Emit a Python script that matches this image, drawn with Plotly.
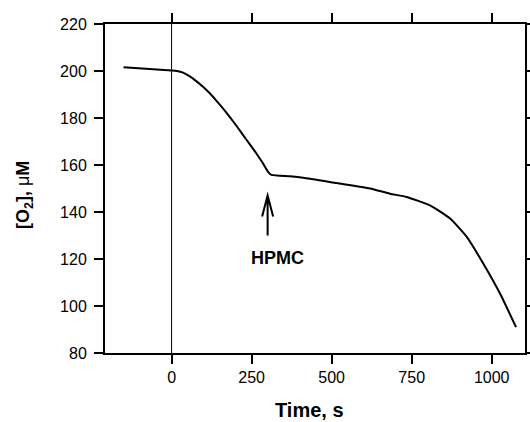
import plotly.graph_objects as go

# Data
time_s = [-150, 0, 16, 36, 57, 78, 99, 120, 141, 161, 182, 203, 224, 245, 266, 286,
          302, 312, 370, 411, 516, 620, 682, 734, 807, 870, 922, 974, 1026, 1076]
o2_uM = [201.6, 200.2, 200.0, 199.3, 197.7, 195.6, 193.2, 190.4, 187.2, 184.0, 180.4,
         176.6, 172.6, 168.7, 164.7, 160.6, 157.0, 155.8, 155.2, 154.6, 152.3, 150.0,
         147.8, 146.4, 142.8, 137.2, 129.4, 118.0, 105.3, 91.0]

x_ticks = [0, 250, 500, 750, 1000]
y_ticks = [80, 100, 120, 140, 160, 180, 200, 220]

arrow_x, arrow_tip_y = 300, 147
label_x, label_y, label_text = 332, 120.5, "HPMC"

font_family = "Liberation Sans, Arial, sans-serif"

fig = go.Figure()
fig.add_trace(go.Scatter(x=time_s, y=o2_uM, mode="lines",
                         line=dict(color="black", width=2, shape="spline", smoothing=0.5),
                         showlegend=False, hoverinfo="skip"))

# vertical line at t = 0
fig.add_shape(type="line", xref="x", yref="paper", x0=0, x1=0, y0=0, y1=1,
              line=dict(color="black", width=1))

# arrow (shaft + open V head), in pixel units anchored at the tip
fig.add_shape(type="path", xref="x", yref="y", xsizemode="pixel", ysizemode="pixel",
              xanchor=arrow_x, yanchor=arrow_tip_y,
              path="M 0,-40 L 0,0 M -5.5,-21 L 0,0 L 5.5,-21",
              line=dict(color="black", width=2))

fig.add_annotation(x=label_x, y=label_y, xref="x", yref="y", text=f"<b>{label_text}</b>",
                   showarrow=False, font=dict(family=font_family, size=18, color="black"),
                   xanchor="center", yanchor="middle")

# y-axis title
fig.add_annotation(x=-0.193, y=0.48, xref="paper", yref="paper",
                   text="<b>[O<sub>2</sub>], </b>μ<b>M</b>", textangle=-90,
                   showarrow=False, font=dict(family=font_family, size=18, color="black"),
                   xanchor="center", yanchor="middle")

# x-axis title
fig.add_annotation(x=0.488, y=-0.173, xref="paper", yref="paper",
                   text="<b>Time, s</b>",
                   showarrow=False, font=dict(family=font_family, size=20, color="black"),
                   xanchor="center", yanchor="middle")

axis_common = dict(showgrid=False, zeroline=False, showline=True, linecolor="black",
                   linewidth=2, mirror="ticks", ticks="outside", ticklen=9, tickwidth=2,
                   tickcolor="black", automargin=False,
                   tickfont=dict(family=font_family, size=16, color="black"))

fig.update_xaxes(range=[-208, 1104], tickvals=x_ticks, **axis_common)
fig.update_yaxes(range=[80, 220], tickvals=y_ticks, ticklabelstandoff=4, **axis_common)

fig.update_layout(width=530, height=422, margin=dict(l=105, r=5, t=24, b=69),
                  paper_bgcolor="white", plot_bgcolor="white",
                  font=dict(family=font_family, color="black"))

fig.write_html("out.html", config={"displayModeBar": False},
               post_script="document.body.style.margin='0';document.body.style.overflow='hidden';")
